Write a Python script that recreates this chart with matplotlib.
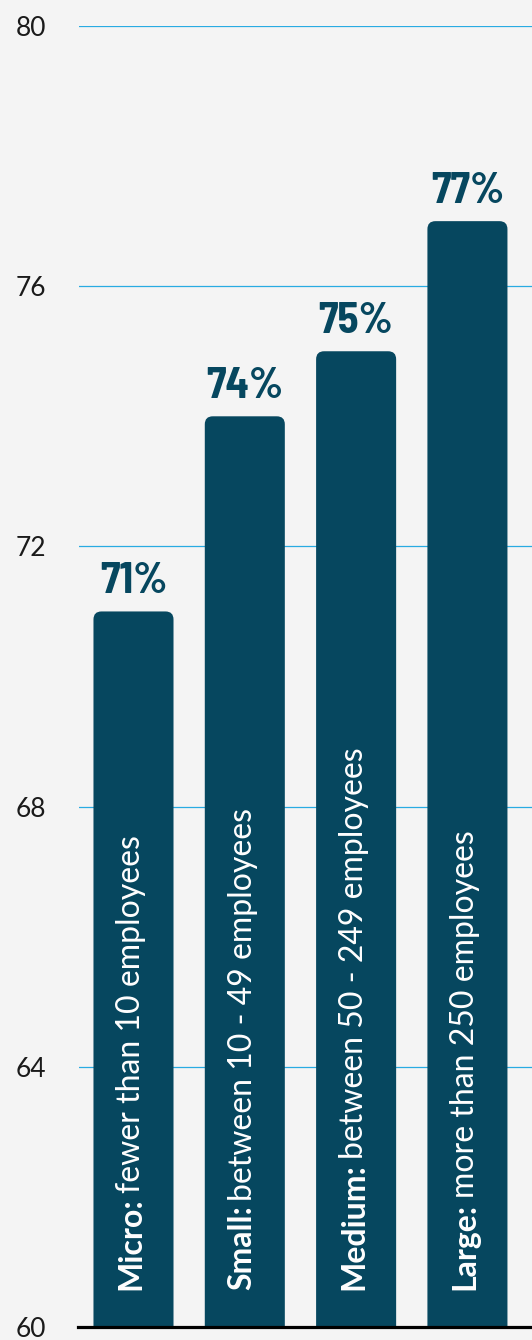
import matplotlib
matplotlib.use("Agg")
import matplotlib.pyplot as plt
from matplotlib.patches import FancyBboxPatch
from matplotlib import transforms

# data
size_bold = ["Micro:", "Small:", "Medium:", "Large:"]
size_rest = ["fewer than 10 employees", "between 10 - 49 employees",
             "between 50 - 249 employees", "more than 250 employees"]
share = [71, 74, 75, 77]
y_ticks = [60, 64, 68, 72, 76, 80]

BAR = "#06475f"
GRID = "#29abe2"
BG = "#f4f4f4"

fig = plt.figure(figsize=(5.32, 13.4), dpi=100, facecolor=BG)
ax = fig.add_axes([78.5 / 532, 1 - 1327 / 1340, 1 - 78.5 / 532, (1327 - 26) / 1340])
ax.set_facecolor(BG)

x = list(range(len(share)))
width = 0.719
ax.set_xlim(-0.494, 3.58)
ax.set_ylim(60, 80)

# bars: build from ax.bar geometry, then swap in rounded-top patches
bars = ax.bar(x, share, width=width, bottom=0, color=BAR, zorder=2)
px_x = 111.3   # px per x unit
px_y = 1301 / 20
r = 8 / px_x
for b in bars:
    b.set_visible(False)
    p = FancyBboxPatch((b.get_x(), 58), b.get_width(), b.get_height() - 58,
                       boxstyle=f"round,pad=0,rounding_size={r}",
                       mutation_aspect=px_x / px_y,
                       facecolor=BAR, edgecolor="none", zorder=2)
    ax.add_patch(p)

ax.set_yticks(y_ticks)
ax.set_yticklabels([str(t) for t in y_ticks], family="Lato", fontsize=19, color="#1a1a1a")
ax.tick_params(axis="y", length=0, pad=23)
ax.set_xticks([])
ax.grid(axis="y", color=GRID, lw=0.9, zorder=0)
ax.set_axisbelow(True)
for s in ["top", "right", "left"]:
    ax.spines[s].set_visible(False)
ax.spines["bottom"].set_linewidth(2.3)
ax.spines["bottom"].set_color("black")
ax.spines["bottom"].set_zorder(3)

# value labels
for i, v in enumerate(share):
    ax.annotate(f"{v}%", (i, v), xytext=(0, 13), textcoords="offset points",
                ha="center", va="baseline", fontsize=31, fontweight="bold",
                color=BAR, family="Barlow Semi Condensed", zorder=4)

# rotated category labels: bold prefix then regular text
bold_texts = []
for i, s in enumerate(size_bold):
    tr = transforms.offset_copy(ax.transData, fig, x=7, y=37, units="dots")
    t = ax.text(i, 60, s, transform=tr, rotation=90, rotation_mode="anchor",
                ha="left", va="baseline", fontsize=23, fontweight="bold",
                color="white", family="Lato", zorder=4)
    bold_texts.append(t)

fig.canvas.draw()
renderer = fig.canvas.get_renderer()
for i, (t, s) in enumerate(zip(bold_texts, size_rest)):
    bb = t.get_window_extent(renderer)
    ax_disp = ax.transData.transform((i, 60))[0] + 7
    fig.text(ax_disp / fig.bbox.width, (bb.y1 + 4.5) / fig.bbox.height, s,
             rotation=90, rotation_mode="anchor", ha="left", va="baseline",
             fontsize=23, color="white", family="Lato", zorder=4)

fig.savefig("out.png", dpi=100, facecolor=BG)
